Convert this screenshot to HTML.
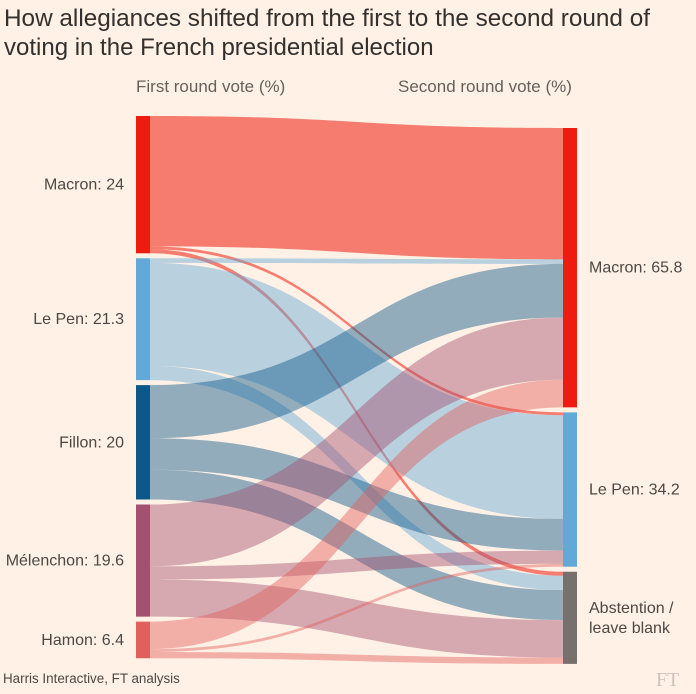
<!DOCTYPE html>
<html><head><meta charset="utf-8">
<style>
body{margin:0;background:#fff1e5;}
svg{display:block;font-family:"Liberation Sans",sans-serif;}
</style></head>
<body>
<svg id="chart" width="696" height="694" viewBox="0 0 696 694">
<rect width="696" height="694" fill="#fff1e5"/>
<text x="4" y="26" font-size="24" fill="#33302e" textLength="646" lengthAdjust="spacingAndGlyphs">How allegiances shifted from the first to the second round of</text>
<text x="4" y="55" font-size="24" fill="#33302e">voting in the French presidential election</text>
<text x="136" y="92" font-size="17" fill="#66605c">First round vote (%)</text>
<text x="398" y="92" font-size="17" fill="#66605c">Second round vote (%)</text>
<g id="flows"></g>
<g id="nodes"></g>
<text x="3" y="683" font-size="13.4" fill="#4d4845">Harris Interactive, FT analysis</text>
<text x="656" y="686" font-size="20" font-family="Liberation Serif,serif" fill="#cfc4ba">FT</text>
</svg>
<script>
const sources = ["Macron: 24","Le Pen: 21.3","Fillon: 20","Mélenchon: 19.6","Hamon: 6.4"];
const targets = ["Macron: 65.8","Le Pen: 34.2","Abstention / leave blank"];
const flowMacron = [22.8, 0.5, 0.7];
const flowLePen = [0.8, 18.0, 2.5];
const flowFillon = [9.3, 5.5, 5.2];
const flowMelenchon = [10.8, 2.3, 6.5];
const flowHamon = [4.8, 0.5, 1.1];
const flows = [flowMacron, flowLePen, flowFillon, flowMelenchon, flowHamon];

const srcColors = ["#ee1c10","#63a9d8","#0d5889","#a4506f","#e0605e"];
const tgtColors = ["#ee1c10","#63a9d8","#76716d"];
const NS = "http://www.w3.org/2000/svg";
const scale = 5.72, rScale = 5.76, leftX = 136, rightX = 563, nodeW = 14;
const leftTop = 116, leftGap = 5, rightTop = 128, rightGap = 5;

const srcTotals = flows.map(f => f.reduce((a,b)=>a+b,0));
const tgtTotals = targets.map((t,j) => flows.reduce((a,f)=>a+f[j],0));
const srcY = []; let y = leftTop;
srcTotals.forEach(v => { srcY.push(y); y += v*scale + leftGap; });
const tgtY = []; y = rightTop;
tgtTotals.forEach(v => { tgtY.push(y); y += v*rScale + rightGap; });

const fg = document.getElementById('flows'), ng = document.getElementById('nodes');
const tgtOff = tgtY.slice();
flows.forEach((f,i) => {
  let sOff = srcY[i];
  f.forEach((v,j) => {
    const h = v*scale, h2 = v*rScale;
    const x0 = leftX+nodeW, x1 = rightX, mx = (x0+x1)/2;
    const y0 = sOff, y1 = tgtOff[j];
    const p = document.createElementNS(NS,'path');
    p.setAttribute('d',`M${x0},${y0} C${mx},${y0} ${mx},${y1} ${x1},${y1} L${x1},${y1+h2} C${mx},${y1+h2} ${mx},${y0+h} ${x0},${y0+h} Z`);
    p.setAttribute('fill',srcColors[i]);
    p.setAttribute('fill-opacity', i===0?0.55:0.45);
    
    
    fg.appendChild(p);
    sOff += h; tgtOff[j] += h2;
  });
});
sources.forEach((s,i) => {
  const r = document.createElementNS(NS,'rect');
  r.setAttribute('x',leftX); r.setAttribute('y',srcY[i]);
  r.setAttribute('width',nodeW); r.setAttribute('height',srcTotals[i]*scale);
  r.setAttribute('fill',srcColors[i]);
  
  
  ng.appendChild(r);
  const t = document.createElementNS(NS,'text');
  t.setAttribute('x',leftX-12); t.setAttribute('y',srcY[i]+srcTotals[i]*scale/2+5);
  t.setAttribute('text-anchor','end'); t.setAttribute('font-size','16'); t.setAttribute('fill','#4d4845');
  t.textContent = s;
  
  
  ng.appendChild(t);
});
targets.forEach((s,j) => {
  const r = document.createElementNS(NS,'rect');
  r.setAttribute('x',rightX); r.setAttribute('y',tgtY[j]);
  r.setAttribute('width',nodeW); r.setAttribute('height',tgtTotals[j]*rScale);
  r.setAttribute('fill',tgtColors[j]);
  
  
  ng.appendChild(r);
  const cy = tgtY[j]+tgtTotals[j]*rScale/2;
  const lines = s.indexOf('/')>=0 ? ["Abstention /","leave blank"] : [s];
  lines.forEach((ln,k) => {
    const t = document.createElementNS(NS,'text');
    t.setAttribute('x',rightX+nodeW+12);
    t.setAttribute('y',cy+5+(k-(lines.length-1)/2)*20);
    t.setAttribute('font-size','16'); t.setAttribute('fill','#4d4845');
    t.textContent = ln;
    
    
    ng.appendChild(t);
  });
});
</script>
</body></html>
